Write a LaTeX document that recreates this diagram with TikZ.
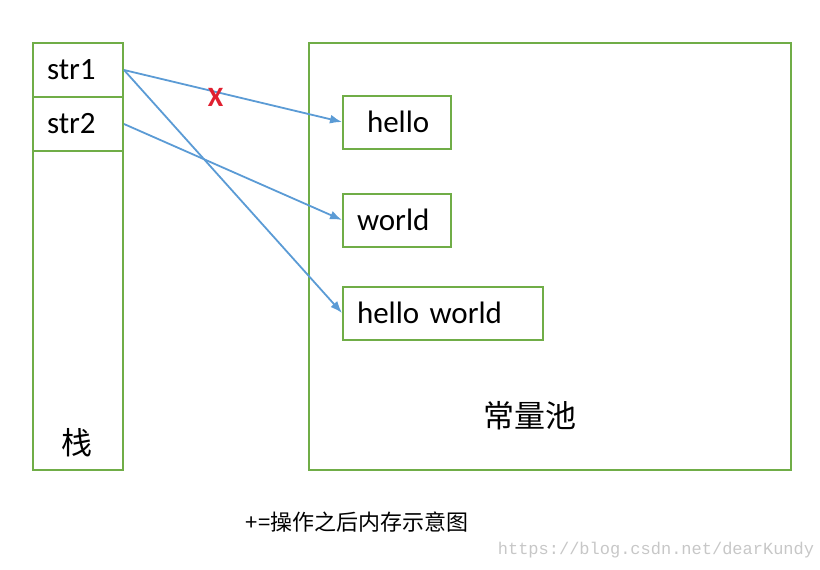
\documentclass[tikz,border=0pt]{standalone}
\usepackage{fontspec}
\setmainfont{Carlito}
\newfontfamily\cjk{Noto Sans CJK SC}
\newfontfamily\wmfont{Liberation Mono}
\usetikzlibrary{positioning,arrows.meta}
\definecolor{boxgreen}{RGB}{112,173,71}
\definecolor{linkblue}{RGB}{91,155,213}
\definecolor{crossred}{RGB}{224,32,48}

\begin{document}
\begin{tikzpicture}[x=1pt, y=-1pt,
  every node/.style={font=\fontsize{31}{36}\selectfont},
  box/.style={draw=boxgreen, line width=2pt},
  cell/.style={box, minimum width=90pt, minimum height=54pt, inner xsep=14pt,
    text width=62pt, align=left},
  strbox/.style={box, minimum height=53pt, inner xsep=14pt, text width=#1, align=left},
  link/.style={draw=linkblue, line width=1.8pt, -{Latex[length=12pt,width=9pt]}}]
  \useasboundingbox (0,0) rectangle (820,570);

  % stack
  \node[box, minimum width=90pt, minimum height=427pt] (stack) at (78,256.5) {};
  \node[cell] (str1) at (78,70) {str1};
  \node[cell] (str2) at (78,124) {str2};
  \node[font=\cjk\fontsize{31}{36}\selectfont] (stacklbl) at (77,443) {栈};

  % constant pool
  \node[box, minimum width=482pt, minimum height=427pt] (pool) at (550,256.5) {};
  \node[font=\cjk\fontsize{31}{36}\selectfont] (poollbl) at (530,416) {常量池};

  \node[box, minimum height=53pt, minimum width=108pt, inner xsep=24pt,
    text width=60pt, align=left] (hello) at (397,122) {hello};
  \node[strbox=80pt] (world) at (397,220) {world};
  \node[strbox=172pt] (hw) at (443,313) {hello world};

  \draw[link] (str1.east) -- (hello.west)
    node[pos=0.42, yshift=-6pt, text=crossred, font=\bfseries\fontsize{28}{32}\selectfont] (cut) {X};
  \draw[link] (str2.east) -- (world.west);
  \draw[link] (str1.east) -- (hw.west);

  % caption
  \node[font=\cjk\fontsize{22}{26}\selectfont] (caption) at (357,522) {+=操作之后内存示意图};
  \node[text=black!22, font=\wmfont\fontsize{17}{20}\selectfont] (mark) at (656,550)
    {https://blog.csdn.net/dearKundy};
\end{tikzpicture}
\end{document}
